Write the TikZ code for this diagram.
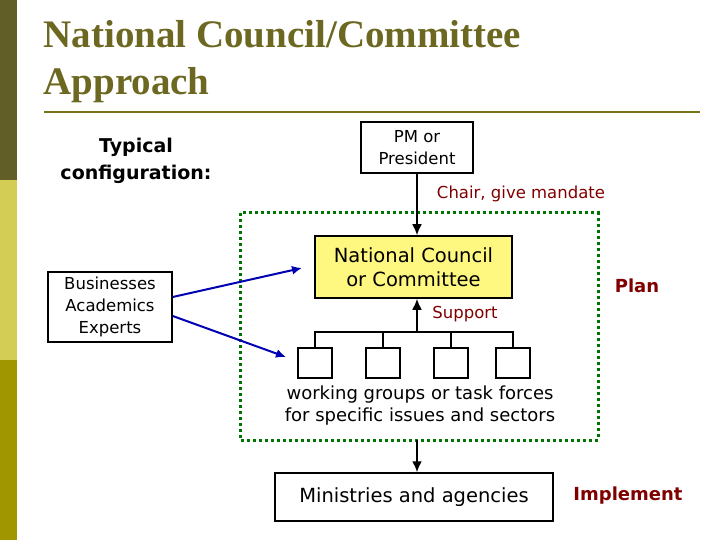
\documentclass[tikz,border=0pt]{standalone}
\usepackage{fontspec}
\setsansfont{DejaVu Sans}
\setmainfont{Liberation Serif}
\usetikzlibrary{arrows.meta}
\begin{document}
\begin{tikzpicture}[x=1pt,y=-1pt,
  box/.style={draw,line width=1.5pt,align=center,font=\sffamily\fontsize{16.5}{22}\selectfont,inner sep=0pt},
  lbl/.style={text=red!50!black,font=\sffamily\fontsize{16.5}{20}\selectfont},
  big/.style={text=red!50!black,font=\sffamily\bfseries\fontsize{18}{20}\selectfont},
  arr/.style={-{Latex[length=11pt,width=10pt]},line width=2pt},
  barr/.style={-{Latex[length=10pt,width=9pt]},blue!70!black,line width=2pt}]
\useasboundingbox (0,0) rectangle (720,540);
\fill[olive!60!black] (0,0) rectangle (17,180);
\fill[yellow!35!olive!60!white] (0,180) rectangle (17,360);
\fill[olive!85!yellow] (0,360) rectangle (17,540);
\node[anchor=west,text=olive!70!black,font=\bfseries\fontsize{39}{47}\selectfont,align=left] (title) at (40,62) {National Council/Committee\\Approach};
\draw[olive!80!black,line width=1.5pt] (44,112) -- (700,112);
\node[align=center,font=\sffamily\bfseries\fontsize{19}{27}\selectfont] (typ) at (136,161) {Typical\\configuration:};
\node[box,minimum width=112,minimum height=51] (pm) at (417,147.5) {PM or\\President};
\draw[green!45!black,line width=3pt,dash pattern=on 3pt off 3pt] (240,213) rectangle (598,440);
\node[box,fill=yellow!50,minimum width=197,minimum height=62,font=\sffamily\fontsize{19.5}{24}\selectfont] (nc) at (413.5,267) {National Council\\or Committee};
\coordinate (top) at (417,173);
\draw[arr] (top) -- (nc.north -| top);
\node[lbl] (chair) at (521,194) {Chair, give mandate};
\node[big] (plan) at (637,286) {Plan};
\foreach \i/\x in {1/315,2/383,3/451,4/513}{
  \node[box,minimum width=34,minimum height=30] (w\i) at (\x,363) {};
}
\coordinate (hub) at (417,332);
\draw[line width=1.5pt] (w1.north) |- (w4.north |- hub) -- (w4.north);
\draw[line width=1.5pt] (w2.north) -- (w2.north |- hub);
\draw[line width=1.5pt] (w3.north) -- (w3.north |- hub);
\draw[arr] (hub) -- (nc.south -| hub);
\node[lbl] (sup) at (465,314) {Support};
\node[align=center,font=\sffamily\fontsize{18}{22}\selectfont] (wg) at (420,406) {working groups or task forces\\for specific issues and sectors};
\node[box,minimum width=278,minimum height=48,font=\sffamily\fontsize{19.5}{22}\selectfont] (min) at (414,497) {Ministries and agencies};
\coordinate (gb) at (417,440);
\draw[arr] (gb) -- (min.north -| gb);
\node[big] (impl) at (628,496) {Implement};
\node[box,minimum width=124,minimum height=70,font=\sffamily\fontsize{16.5}{22}\selectfont] (bus) at (110,307) {Businesses\\Academics\\Experts};
\coordinate (t1) at (302,268);
\coordinate (t2) at (286,357);
\draw[barr] (bus.east |- 0,297) -- (t1);
\draw[barr] (bus.east |- 0,316) -- (t2);
\end{tikzpicture}
\end{document}
